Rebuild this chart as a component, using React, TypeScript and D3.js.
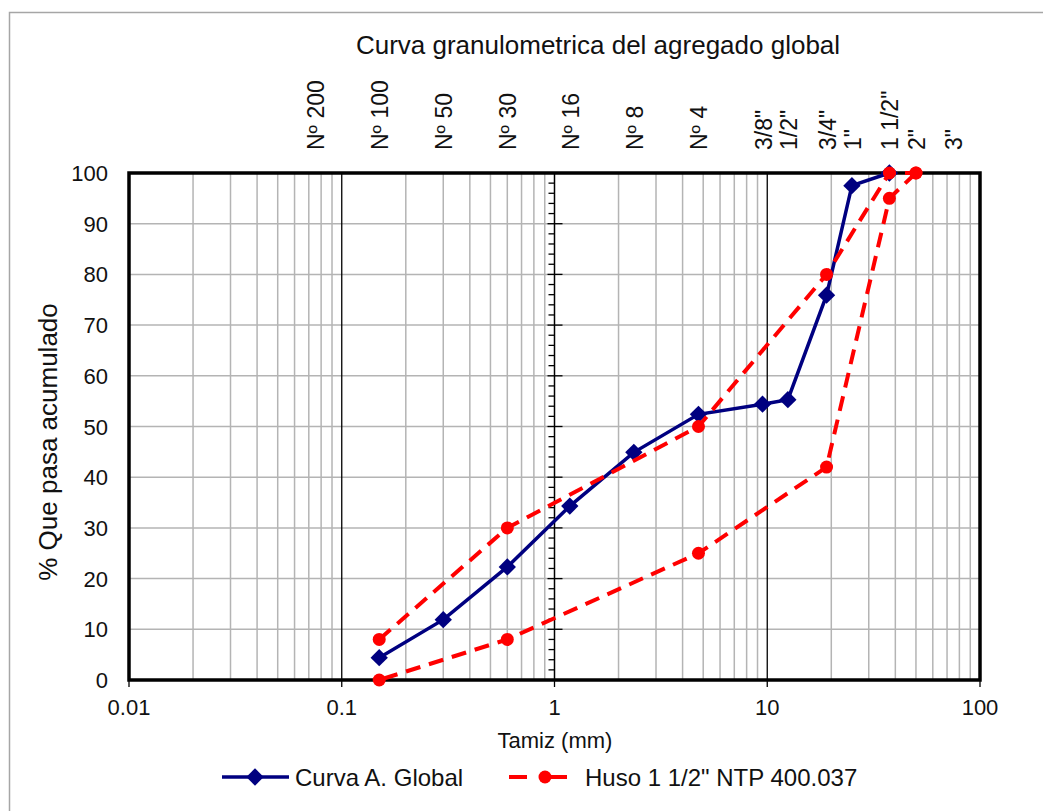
import { useEffect, useRef } from "react";
import * as d3 from "d3";

// Tamices (mm) y nombres
const sieveSizes = [0.075, 0.15, 0.3, 0.6, 1.18, 2.36, 4.75, 9.5, 12.5, 19, 25, 37.5, 50, 75];
const sieveNames = ["Nº 200", "Nº 100", "Nº 50", "Nº 30", "Nº 16", "Nº 8", "Nº 4", '3/8"', '1/2"', '3/4"', '1"', '1 1/2"', '2"', '3"'];

// Curva A. Global
const curvaSize = [0.15, 0.3, 0.6, 1.18, 2.36, 4.75, 9.5, 12.5, 19, 25, 37.5];
const curvaPasa = [4.4, 11.9, 22.3, 34.3, 44.9, 52.4, 54.4, 55.3, 75.9, 97.5, 100];

// Huso 1 1/2" NTP 400.037
const husoSize = [0.15, 0.6, 4.75, 19, 37.5, 50];
const husoSup = [8, 30, 50, 80, 100, 100];
const husoInf = [0, 8, 25, 42, 95, 100];

const xTicks = [0.01, 0.1, 1, 10, 100];
const yTicks = [0, 10, 20, 30, 40, 50, 60, 70, 80, 90, 100];

const W = 1043;
const H = 811;
const FONT = "'Liberation Sans', Arial, sans-serif";

export default function App() {
  const ref = useRef<SVGSVGElement>(null);

  useEffect(() => {
    draw();
  }, []);

  function draw() {
    const svg = d3.select(ref.current);
    svg.selectAll("*").remove();

    const x = d3.scaleLog().domain([0.01, 100]).range([129, 980]);
    const y = d3.scaleLinear().domain([0, 100]).range([680, 173]);

    // marco exterior
    svg.append("rect")
      .attr("x", 9.5).attr("y", 12.5)
      .attr("width", W + 20).attr("height", H + 20)
      .attr("fill", "none").attr("stroke", "#a6a6a6").attr("stroke-width", 1.5);

    svg.append("text")
      .attr("x", 598).attr("y", 54)
      .attr("text-anchor", "middle")
      .style("font-family", FONT).style("font-size", "26px").attr("fill", "#111")
      .text("Curva granulometrica del agregado global");

    // rejilla menor vertical
    const minor: number[] = [];
    for (let e = -2; e < 2; e++) {
      for (let k = 2; k <= 9; k++) minor.push(k * Math.pow(10, e));
    }
    svg.append("g").selectAll("line").data(minor).enter().append("line")
      .attr("x1", d => x(d)).attr("x2", d => x(d))
      .attr("y1", y(0)).attr("y2", y(100))
      .attr("stroke", "#b4b4b4").attr("stroke-width", 1.5);

    svg.append("g").selectAll("line").data(yTicks.slice(1, -1)).enter().append("line")
      .attr("x1", x(0.01)).attr("x2", x(100))
      .attr("y1", d => y(d)).attr("y2", d => y(d))
      .attr("stroke", "#b4b4b4").attr("stroke-width", 1.5);

    svg.append("g").selectAll("line").data([0.1, 10]).enter().append("line")
      .attr("x1", d => x(d)).attr("x2", d => x(d))
      .attr("y1", y(0)).attr("y2", y(100))
      .attr("stroke", "#000").attr("stroke-width", 1.3);

    // eje vertical que cruza en 1
    const ax = x(1);
    svg.append("line")
      .attr("x1", ax).attr("x2", ax).attr("y1", y(0)).attr("y2", y(100))
      .attr("stroke", "#000").attr("stroke-width", 1.5);
    const yMinor = d3.range(2, 100, 2).filter(v => v % 10 !== 0);
    svg.append("g").selectAll("line").data(yMinor).enter().append("line")
      .attr("x1", ax - 6).attr("x2", ax)
      .attr("y1", d => y(d)).attr("y2", d => y(d))
      .attr("stroke", "#000").attr("stroke-width", 1.3);
    svg.append("g").selectAll("line").data(yTicks).enter().append("line")
      .attr("x1", ax - 7).attr("x2", ax + 8)
      .attr("y1", d => y(d)).attr("y2", d => y(d))
      .attr("stroke", "#000").attr("stroke-width", 1.3);

    // ticks eje x
    svg.append("g").selectAll("line").data(xTicks).enter().append("line")
      .attr("x1", d => x(d)).attr("x2", d => x(d))
      .attr("y1", y(0)).attr("y2", y(0) + 7)
      .attr("stroke", "#000").attr("stroke-width", 1.3);

    // borde del área de trazado
    svg.append("rect")
      .attr("x", x(0.01)).attr("y", y(100))
      .attr("width", x(100) - x(0.01)).attr("height", y(0) - y(100))
      .attr("fill", "none").attr("stroke", "#000").attr("stroke-width", 3.5);

    // etiquetas
    svg.append("g").selectAll("text").data(yTicks).enter().append("text")
      .attr("x", 108).attr("y", d => y(d) + 8)
      .attr("text-anchor", "end")
      .style("font-family", FONT).style("font-size", "22px").attr("fill", "#111")
      .text(d => String(d));

    svg.append("g").selectAll("text").data(xTicks).enter().append("text")
      .attr("x", d => x(d)).attr("y", 715)
      .attr("text-anchor", "middle")
      .style("font-family", FONT).style("font-size", "22px").attr("fill", "#111")
      .text(d => String(d));

    svg.append("g").selectAll("text").data(sieveSizes).enter().append("text")
      .attr("transform", d => `translate(${x(d) + 9},150) rotate(-90)`)
      .attr("text-anchor", "start")
      .style("font-family", FONT).style("font-size", "23px").attr("fill", "#111")
      .text((d, i) => sieveNames[i]);

    svg.append("text")
      .attr("x", 555).attr("y", 748)
      .attr("text-anchor", "middle")
      .style("font-family", FONT).style("font-size", "22px").attr("fill", "#111")
      .text("Tamiz (mm)");

    svg.append("text")
      .attr("transform", `translate(57,442) rotate(-90)`)
      .attr("text-anchor", "middle")
      .style("font-family", FONT).style("font-size", "26px").attr("fill", "#111")
      .text("% Que pasa acumulado");

    // series
    const line = d3.line<[number, number]>().x(d => x(d[0])).y(d => y(d[1]));
    const curva: [number, number][] = curvaSize.map((s, i) => [s, curvaPasa[i]]);
    const diamond = d3.symbol().type(d3.symbolSquare).size(150);

    svg.append("path")
      .attr("d", line(curva))
      .attr("fill", "none").attr("stroke", "#000080").attr("stroke-width", 3.5);
    svg.append("g").selectAll("path").data(curva).enter().append("path")
      .attr("d", diamond)
      .attr("transform", d => `translate(${x(d[0])},${y(d[1])}) rotate(45)`)
      .attr("fill", "#000080");

    const huso: [number, number][] = [
      ...husoSize.map((s, i) => [s, husoSup[i]] as [number, number]),
      ...husoSize.map((s, i) => [s, husoInf[i]] as [number, number]).reverse(),
    ];
    svg.append("path")
      .attr("d", line(huso.slice(0, husoSize.length)))
      .attr("fill", "none").attr("stroke", "#ff0000").attr("stroke-width", 4)
      .attr("stroke-dasharray", "15,9");
    svg.append("path")
      .attr("d", line(huso.slice(husoSize.length - 1)))
      .attr("fill", "none").attr("stroke", "#ff0000").attr("stroke-width", 4)
      .attr("stroke-dasharray", "15,9");
    svg.append("g").selectAll("circle").data(huso).enter().append("circle")
      .attr("cx", d => x(d[0])).attr("cy", d => y(d[1]))
      .attr("r", 6.5).attr("fill", "#ff0000");

    // leyenda
    const lg = svg.append("g");
    lg.append("line").attr("x1", 222).attr("x2", 289).attr("y1", 777).attr("y2", 777)
      .attr("stroke", "#000080").attr("stroke-width", 3.5);
    lg.append("path").attr("d", diamond)
      .attr("transform", "translate(255,777) rotate(45)").attr("fill", "#000080");
    lg.append("text").attr("x", 295).attr("y", 786)
      .style("font-family", FONT).style("font-size", "24px").attr("fill", "#111")
      .text("Curva A. Global");
    lg.append("line").attr("x1", 509).attr("x2", 582).attr("y1", 777).attr("y2", 777)
      .attr("stroke", "#ff0000").attr("stroke-width", 4).attr("stroke-dasharray", "18,22");
    lg.append("circle").attr("cx", 545).attr("cy", 777).attr("r", 6.5).attr("fill", "#ff0000");
    lg.append("text").attr("x", 585).attr("y", 786)
      .style("font-family", FONT).style("font-size", "24px").attr("fill", "#111")
      .text('Huso 1 1/2" NTP 400.037');
  }

  return (
    <svg
      ref={ref}
      width={W}
      height={H}
      style={{ position: "fixed", left: 0, top: 0, background: "#fff" }}
    />
  );
}
